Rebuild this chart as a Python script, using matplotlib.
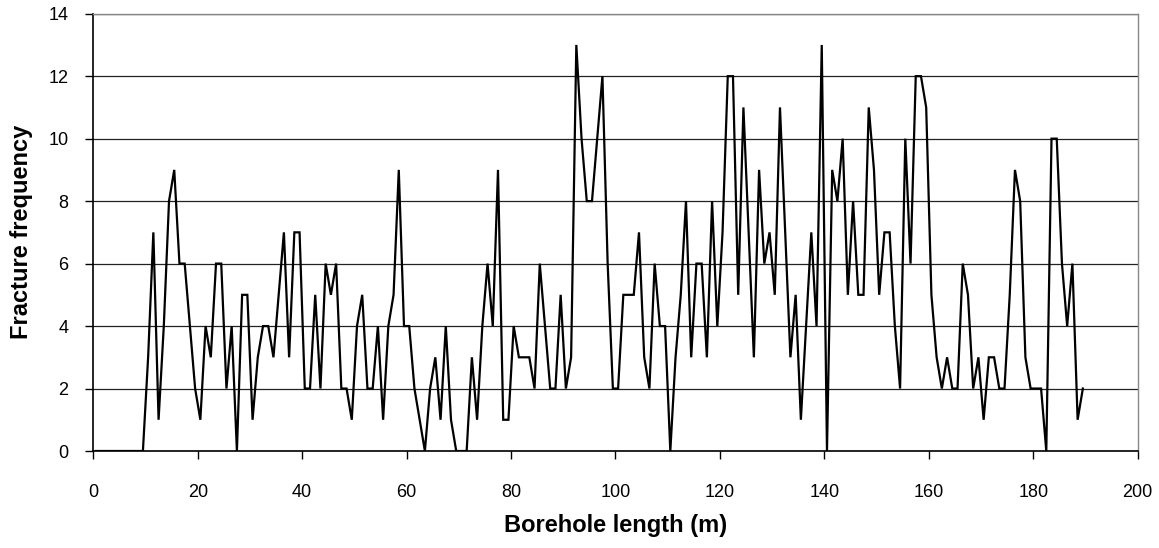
import numpy as np
import matplotlib
matplotlib.use("Agg")
import matplotlib.pyplot as plt

plt.rcParams['font.family'] = ['Liberation Sans', 'DejaVu Sans']

# Fracture frequency per 1 m interval of borehole
frequency = [
    0, 0, 0, 0, 0, 0, 0, 0, 0, 0,
    3, 7, 1, 4, 8, 9, 6, 6, 4, 2,
    1, 4, 3, 6, 6, 2, 4, 0, 5, 5,
    1, 3, 4, 4, 3, 5, 7, 3, 7, 7,
    2, 2, 5, 2, 6, 5, 6, 2, 2, 1,
    4, 5, 2, 2, 4, 1, 4, 5, 9, 4,
    4, 2, 1, 0, 2, 3, 1, 4, 1, 0,
    0, 0, 3, 1, 4, 6, 4, 9, 1, 1,
    4, 3, 3, 3, 2, 6, 4, 2, 2, 5,
    2, 3, 13, 10, 8, 8, 10, 12, 6, 2,
    2, 5, 5, 5, 7, 3, 2, 6, 4, 4,
    0, 3, 5, 8, 3, 6, 6, 3, 8, 4,
    7, 12, 12, 5, 11, 7, 3, 9, 6, 7,
    5, 11, 7, 3, 5, 1, 4, 7, 4, 13,
    0, 9, 8, 10, 5, 8, 5, 5, 11, 9,
    5, 7, 7, 4, 2, 10, 6, 12, 12, 11,
    5, 3, 2, 3, 2, 2, 6, 5, 2, 3,
    1, 3, 3, 2, 2, 5, 9, 8, 3, 2,
    2, 2, 0, 10, 10, 6, 4, 6, 1, 2,
]
depth = np.arange(len(frequency)) + 0.5  # interval midpoints (m)

x_ticks = list(range(0, 201, 20))
y_ticks = list(range(0, 15, 2))

fig = plt.figure(figsize=(11.59, 5.48), dpi=100)
ax = fig.add_axes([0.0805, 0.177, 0.9011, 0.798])

ax.plot(depth, frequency, color='black', lw=1.6, solid_joinstyle='miter')

ax.set_xticks(x_ticks)
ax.set_yticks(y_ticks)
ax.set_xlim(0, 200)
ax.set_ylim(0, 14)
ax.yaxis.grid(True, color='#222222', lw=0.9)
ax.set_axisbelow(True)

for side in ['left', 'bottom']:
    ax.spines[side].set_color('black')
    ax.spines[side].set_linewidth(1.2)
for side in ['top', 'right']:
    ax.spines[side].set_color('#888888')
    ax.spines[side].set_linewidth(1.0)

ax.tick_params(axis='x', direction='out', length=6, width=1, labelsize=13, pad=18)
ax.tick_params(axis='y', direction='out', length=6, width=1, labelsize=13, pad=12)

ax.set_xlabel('Borehole length (m)', fontsize=17, fontweight='bold', labelpad=9)
ax.set_ylabel('Fracture frequency', fontsize=17, fontweight='bold', labelpad=11)

fig.savefig('out.png', dpi=100)
